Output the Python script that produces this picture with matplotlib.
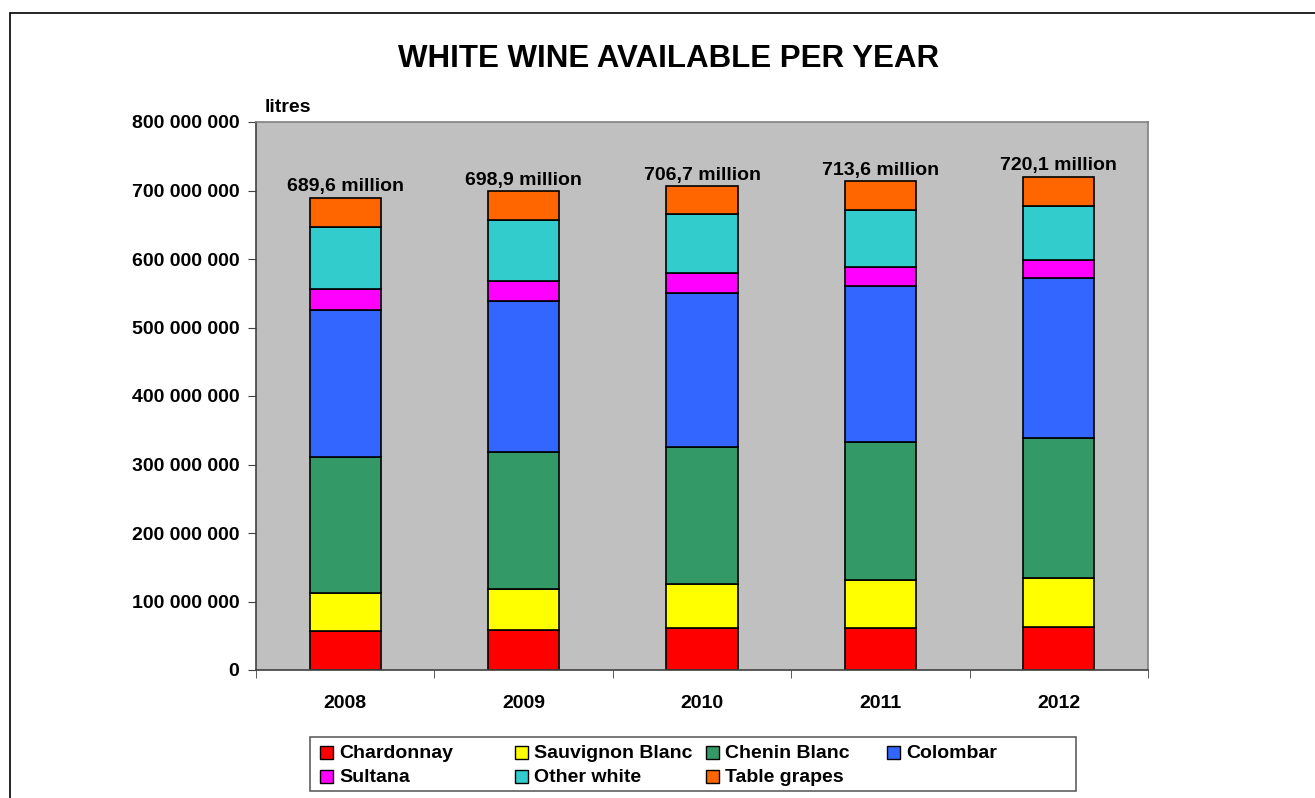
#!/usr/bin/env python
"""Stacked bar chart of white wine available per year."""
import matplotlib.pyplot as plt
import matplotlib.patches as mpatches
from matplotlib.ticker import FuncFormatter

plt.rcParams["font.family"] = ["Liberation Sans", "DejaVu Sans"]
plt.rcParams["font.weight"] = "bold"

years = ["2008", "2009", "2010", "2011", "2012"]
totals = ["689,6 million", "698,9 million", "706,7 million",
          "713,6 million", "720,1 million"]

# values in litres
chardonnay = [57e6, 58e6, 61e6, 62e6, 63e6]
sauvignon = [56e6, 60e6, 64e6, 69e6, 72e6]
chenin = [198e6, 200e6, 200e6, 202e6, 203e6]
colombar = [215e6, 221e6, 225e6, 228e6, 234e6]
sultana = [30e6, 29e6, 30e6, 27e6, 27e6]
other_white = [91e6, 89e6, 85e6, 84e6, 79e6]
table_grapes = [42.6e6, 41.9e6, 41.7e6, 41.6e6, 42.1e6]

series = [
    ("Chardonnay", chardonnay, "#FF0000"),
    ("Sauvignon Blanc", sauvignon, "#FFFF00"),
    ("Chenin Blanc", chenin, "#339966"),
    ("Colombar", colombar, "#3366FF"),
    ("Sultana", sultana, "#FF00FF"),
    ("Other white", other_white, "#33CCCC"),
    ("Table grapes", table_grapes, "#FF6600"),
]

W, H = 1315, 798
fig = plt.figure(figsize=(W / 100, H / 100), dpi=100)
ax = fig.add_axes([256 / W, 1 - 670 / H, 892 / W, 548 / H])
ax.set_facecolor("#C0C0C0")

# outer chart frame
fig.patches.append(mpatches.Rectangle((10 / W, -0.1), 1.2, 1.1 - 13 / H,
                                      transform=fig.transFigure, fill=False,
                                      edgecolor="black", linewidth=1.2))

x = list(range(len(years)))
bottom = [0] * len(years)
for name, vals, col in series:
    ax.bar(x, vals, width=0.4, bottom=bottom, color=col,
           edgecolor="black", linewidth=1.2, label=name)
    bottom = [bo + v for bo, v in zip(bottom, vals)]

for xi, top, lab in zip(x, bottom, totals):
    ax.text(xi, top + 3.5e6, lab, ha="center", va="bottom",
            fontsize=14, fontweight="bold")

ax.set_xlim(-0.5, len(years) - 0.5)
ax.set_ylim(0, 800e6)
ax.set_yticks(range(0, 800000001, 100000000))
ax.yaxis.set_major_formatter(
    FuncFormatter(lambda v, p: f"{int(v):,}".replace(",", " ")))
ax.set_xticks(x)
ax.set_xticklabels(years)
ax.set_xticks([i - 0.5 for i in range(len(years) + 1)], minor=True)
ax.tick_params(axis="x", which="major", length=0, pad=18, labelsize=14)
ax.tick_params(axis="x", which="minor", length=6, direction="out",
               color="#404040")
ax.tick_params(axis="y", length=6, direction="out", labelsize=14, pad=6,
               color="#404040")
for lbl in ax.get_xticklabels() + ax.get_yticklabels():
    lbl.set_fontweight("bold")

for side in ["top", "right"]:
    ax.spines[side].set_color("#808080")
    ax.spines[side].set_linewidth(1.2)
ax.spines["left"].set_color("#404040")
ax.spines["bottom"].set_color("#404040")
ax.spines["left"].set_linewidth(1.2)
ax.spines["bottom"].set_linewidth(1.2)

fig.text(669 / W, 1 - 59 / H, "WHITE WINE AVAILABLE PER YEAR",
         ha="center", va="center", fontsize=22.5, fontweight="bold")
fig.text(265 / W, 1 - 108 / H, "litres", ha="left", va="center",
         fontsize=14, fontweight="bold")

# legend laid out like the spreadsheet one: fixed column slots
fig.patches.append(mpatches.Rectangle((310 / W, 1 - 791 / H), 766 / W,
                                      54 / H, transform=fig.transFigure,
                                      facecolor="white", edgecolor="#606060",
                                      linewidth=1.2))
col_x = [320, 515, 706, 887]
row_y = [752, 776]
for i, (name, vals, col) in enumerate(series):
    cx = col_x[i % 4]
    cy = row_y[i // 4]
    fig.patches.append(mpatches.Rectangle((cx / W, 1 - (cy + 6.5) / H),
                                          13 / W, 13 / H,
                                          transform=fig.transFigure,
                                          facecolor=col, edgecolor="black",
                                          linewidth=1.0))
    fig.text((cx + 19) / W, 1 - (cy + 2) / H, name, ha="left", va="center",
             fontsize=14, fontweight="bold")

plt.savefig("out.png", dpi=100)
